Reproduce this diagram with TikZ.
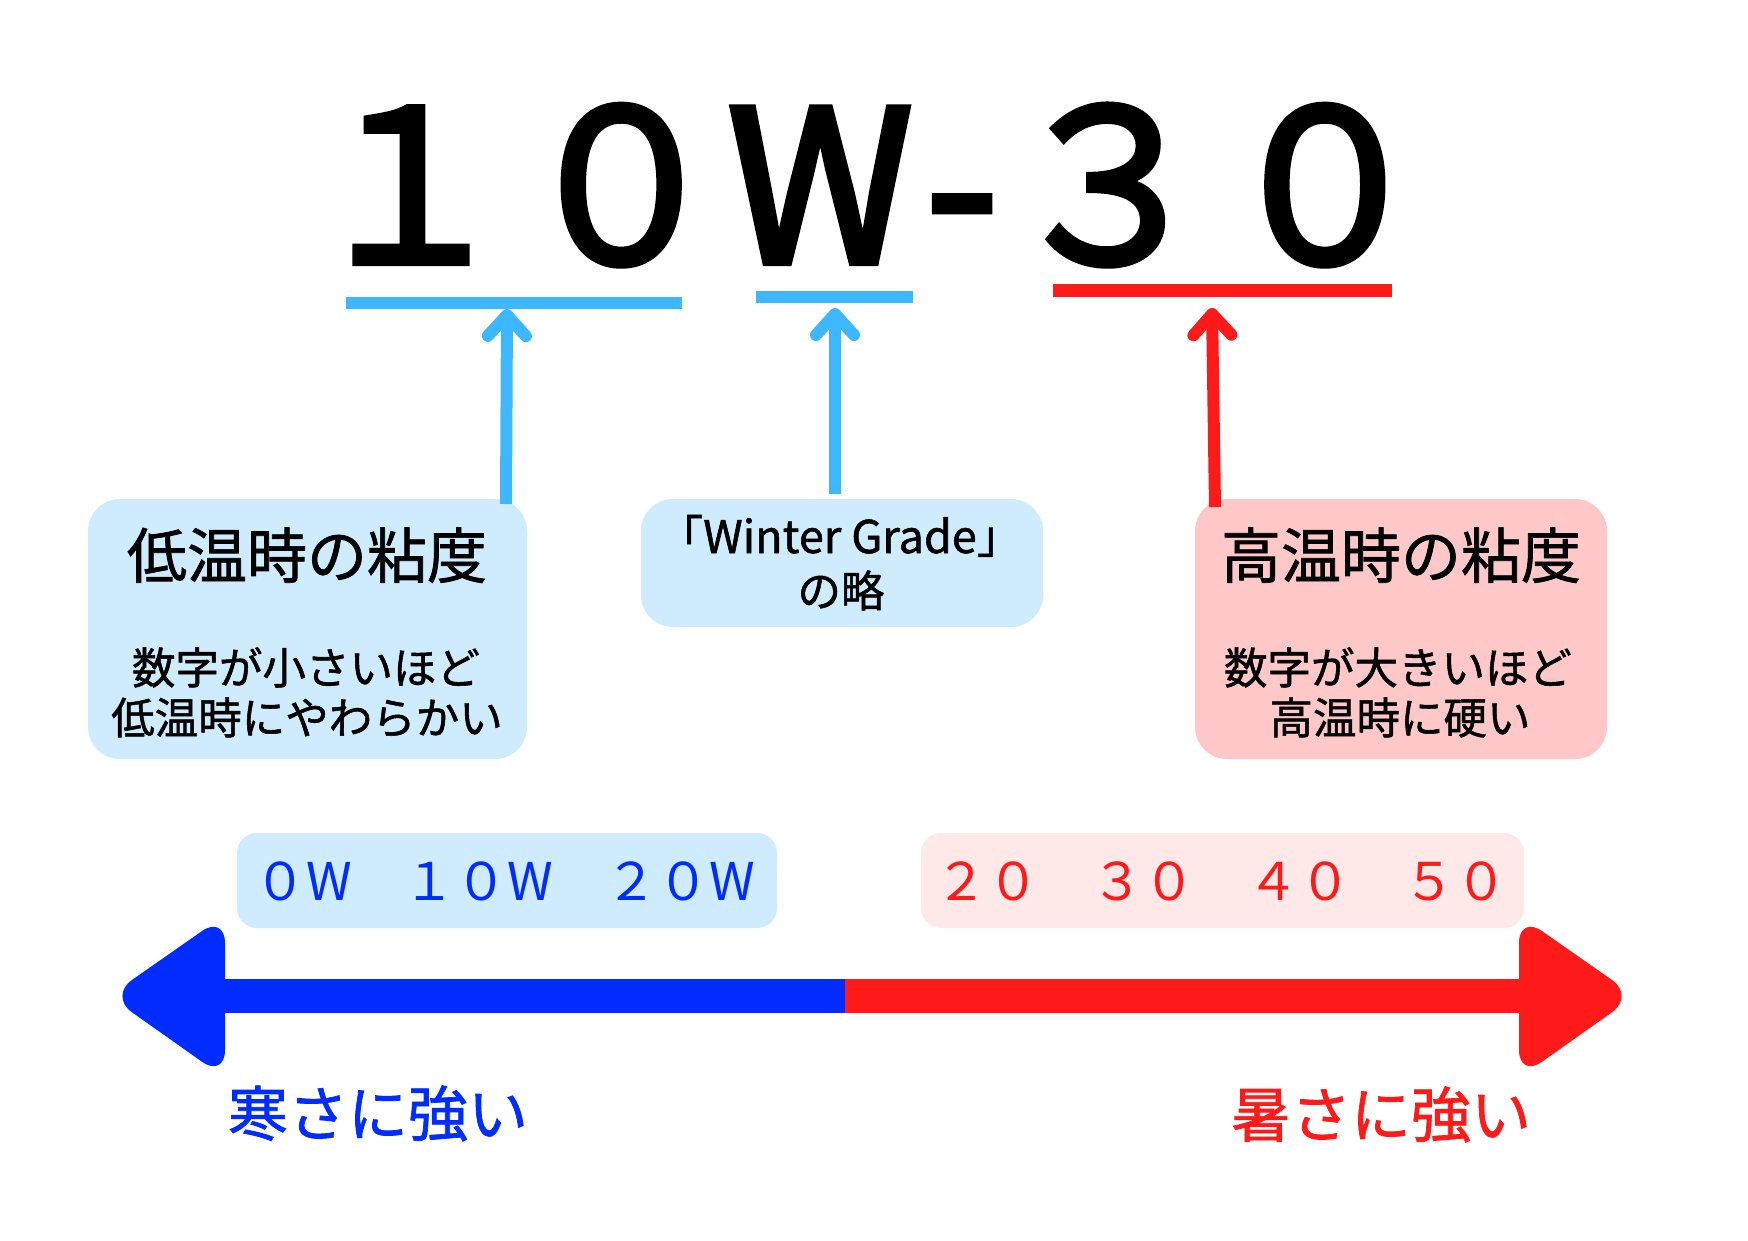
\documentclass[tikz,border=0pt]{standalone}
\usepackage{fontspec}
\setmainfont{Noto Sans CJK JP}
\newfontfamily\heavyfont[FakeBold=3]{Noto Sans CJK JP}
\newfontfamily\midfont[FakeBold=1.2]{Noto Sans CJK JP}
\usetikzlibrary{arrows.meta}
\definecolor{lbox}{HTML}{CEECFD}
\definecolor{pbox}{HTML}{FFC8C8}
\definecolor{pbox2}{HTML}{FFE8E8}
\definecolor{sky}{HTML}{3DB8FF}
\definecolor{dblue}{HTML}{002CFF}
\definecolor{dred}{HTML}{FF1A1A}
\begin{document}
\begin{tikzpicture}[x=1pt,y=-1pt,
  card/.style={rounded corners=32pt, inner sep=0pt, draw=none},
  scalebox/.style={rounded corners=20pt, inner sep=0pt, draw=none},
  uline/.style={inner sep=0pt, draw=none},
  txt/.style={anchor=base, inner sep=0pt},
  titletxt/.style={txt, font=\midfont\fontsize{60}{60}\selectfont},
  bodytxt/.style={txt, font=\midfont\fontsize{43.5}{44}\selectfont},
  pointer/.style={line width=12pt, -{Straight Barb[round,length=21pt,width=38pt]}}
]
\fill[white] (0,0) rectangle (1748,1240);
\useasboundingbox (0,0) rectangle (1748,1240);

% big code
\node[anchor=base west, inner sep=0pt, font=\heavyfont\fontsize{212}{212}\selectfont] (code) at (303,263) {１０W\kern12pt-\kern4pt３\kern4pt０};

% underlines
\node[uline, fill=sky, minimum width=336pt, minimum height=12pt] (u1) at (514,303) {};
\node[uline, fill=sky, minimum width=157pt, minimum height=12pt] (u2) at (834.5,297) {};
\node[uline, fill=dred, minimum width=339pt, minimum height=13pt] (u3) at (1222.5,290.5) {};

% cards
\node[card, fill=lbox, minimum width=439pt, minimum height=260pt] (b1) at (307.5,629) {};
\node[card, fill=lbox, minimum width=402pt, minimum height=128pt] (b2) at (842,563) {};
\node[card, fill=pbox, minimum width=412pt, minimum height=260pt] (b3) at (1401,629) {};

% pointers
\coordinate (p1s) at (506,504);
\coordinate (p1t) at (507,309);
\coordinate (p2s) at (835,494);
\coordinate (p2t) at (835,308);
\coordinate (p3s) at (1215,507);
\coordinate (p3t) at (1212,308);
\draw[pointer, sky] (p1s) -- (p1t);
\draw[pointer, sky] (p2s) -- (p2t);
\draw[pointer, dred] (p3s) -- (p3t);

% card texts
\node[titletxt] (t1a) at (307,578) {低温時の粘度};
\node[bodytxt] (t1b) at (306,684) {数字が小さいほど};
\node[bodytxt] (t1c) at (307,734) {低温時にやわらかい};
\node[txt, font=\midfont\fontsize{45}{45}\selectfont] (t2a) at (840,553) {「Winter Grade」};
\node[bodytxt] (t2b) at (841,607) {の略};
\node[titletxt] (t3a) at (1401,578) {高温時の粘度};
\node[bodytxt] (t3b) at (1398,684) {数字が大きいほど};
\node[bodytxt] (t3c) at (1400,734) {高温時に硬い};

% scale boxes
\node[scalebox, fill=lbox, minimum width=540pt, minimum height=95pt] (sb) at (507,880.5) {};
\node[scalebox, fill=pbox2, minimum width=603pt, minimum height=95pt] (sr) at (1222.5,880.5) {};
\node[anchor=base west, inner sep=0pt, text=dblue, font=\fontsize{52}{52}\selectfont] (sbt) at (254,900) {０W　１０W　２０W};
\node[anchor=base west, inner sep=0pt, text=dred, font=\fontsize{52}{52}\selectfont] (srt) at (935,900) {２０　３０　４０　５０};

% big double arrow
\fill[dblue] (225,979) rectangle (846,1013);
\fill[dred] (845,979) rectangle (1525,1013);
\fill[dblue, rounded corners=28pt] (225,996) -- (225,915) -- (109,996) -- (225,1078) -- cycle;
\fill[dred, rounded corners=28pt] (1519,996) -- (1519,915) -- (1635,996) -- (1519,1078) -- cycle;

% labels
\node[titletxt, text=dblue] (cold) at (378,1136) {寒さに強い};
\node[titletxt, text=dred] (hot) at (1381,1137) {暑さに強い};
\end{tikzpicture}
\end{document}
